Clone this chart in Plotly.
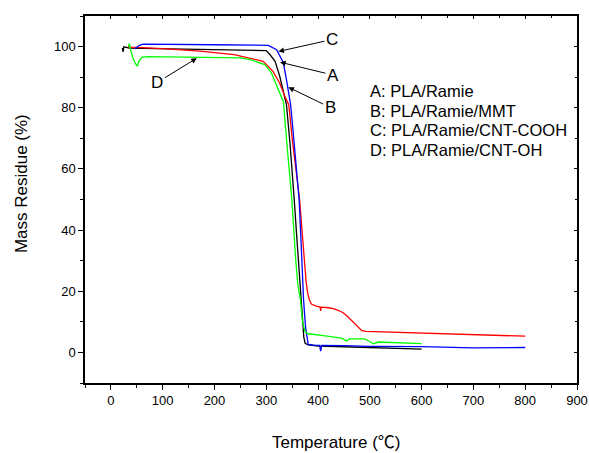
import plotly.graph_objects as go

# ---------------- data ----------------
temp_A = [22, 23.5, 25, 27, 30, 36, 60, 100, 150, 200, 250, 280, 300, 307, 317, 326, 332, 339,
          346, 350, 354, 358, 362, 366, 369, 371, 372.5, 375, 381, 400, 450, 500, 550, 600]
mass_A = [99.6, 98.3, 99.9, 99.8, 99.6, 99.5, 99.4, 99.3, 99.2, 99.1, 99.0, 98.9, 98.7, 97.4, 95.2,
          90.3, 86, 81, 68, 60, 50, 40, 30, 22, 16, 9, 5, 3.0, 2.5, 2.1, 1.9, 1.6, 1.4, 1.1]

temp_B = [33, 40, 100, 172, 238, 269, 294, 313, 326, 336, 343.5, 350, 357, 364.5, 369, 373, 377,
          380, 383, 387, 395, 403, 404, 405, 406, 420, 430, 440, 449, 458, 468, 476, 484, 492,
          550, 600, 650, 700, 750, 800]
mass_B = [100.0, 99.8, 99.3, 98.5, 97.4, 96.3, 95.2, 91.9, 88.0, 83.7, 81, 70, 60, 49.8, 40, 30, 23,
          19.5, 17.3, 15.8, 15.2, 14.9, 14.8, 13.6, 14.8, 14.6, 14.3, 13.7, 12.9, 11.6, 9.9, 8.3,
          7.2, 6.9, 6.6, 6.3, 6.1, 5.9, 5.6, 5.3]

temp_C = [46, 50, 55, 62, 100, 200, 280, 304, 320, 333, 339, 347, 352, 357, 363.5, 368, 372, 376,
          379, 381, 390, 403, 405, 407, 450, 500, 600, 700, 800]
mass_C = [99.2, 99.8, 100.4, 100.8, 100.7, 100.6, 100.5, 100.4, 99.0, 94.7, 89.2, 81, 72, 62,
          49.8, 33, 17.3, 8, 4, 2.6, 2.4, 2.3, 0.4, 2.3, 2.2, 2.0, 1.9, 1.5, 1.6]

temp_D = [34, 35.5, 38, 42, 47, 51, 55, 60, 70, 100, 150, 200, 250, 269, 297, 310, 323, 333,
          341, 349.5, 357, 361, 366, 370, 375, 381, 410, 430, 445, 452, 455, 461, 475, 490, 497,
          503, 507, 517, 550, 600]
mass_D = [100.0, 101.0, 99.0, 96.5, 94.5, 93.6, 95.5, 96.5, 96.7, 96.6, 96.5, 96.5, 96.3, 95.7,
          94.1, 91.4, 86.4, 82, 66, 49.8, 30, 22, 17.3, 10, 6.7, 6.1, 5.5, 5.0, 4.7, 4.0, 3.7,
          4.4, 4.4, 4.4, 3.8, 3.3, 2.85, 3.4, 3.2, 2.85]

series_names = ["A", "B", "C", "D"]
series_colors = ["#000000", "#ff0000", "#0000ff", "#00ff00"]

legend_lines = ["A: PLA/Ramie", "B: PLA/Ramie/MMT", "C: PLA/Ramie/CNT-COOH", "D: PLA/Ramie/CNT-OH"]

x_title = "Temperature (<span style='font-family:Noto Sans CJK SC'>℃</span>)"
y_title = "Mass Residue (%)"

# label positions (data coords): label centre and arrow head
label_text = ["C", "A", "B", "D"]
label_xy = [(426.6, 102.3), (428.6, 90.7), (423.3, 80.1), (89.7, 88.3)]
arrow_head = [(323.5, 98.4), (326.7, 94.9), (342.8, 86.7), (165.8, 96.2)]

x_ticks = list(range(0, 901, 100))
y_ticks = list(range(0, 101, 20))

FONT = "Liberation Sans, Arial, Noto Sans CJK SC, sans-serif"

fig = go.Figure()
temps = [temp_A, temp_B, temp_C, temp_D]
masses = [mass_A, mass_B, mass_C, mass_D]
for name, col, t, m in zip(series_names, series_colors, temps, masses):
    fig.add_trace(go.Scatter(x=t, y=m, mode="lines", name=name,
                             line=dict(color=col, width=1.3), showlegend=False))

# invisible trace to hold the mirrored (top/right) axes
fig.add_trace(go.Scatter(x=[None], y=[None], xaxis="x2", yaxis="y2",
                         showlegend=False, hoverinfo="skip"))

axis_common = dict(showgrid=False, zeroline=False, showline=True, linecolor="black",
                   linewidth=1.5, tickcolor="black", tickwidth=1.2, automargin=False)

fig.update_layout(
    width=589, height=453,
    margin=dict(l=85, r=12, t=16, b=70, autoexpand=False),
    paper_bgcolor="white", plot_bgcolor="white",
    font=dict(family=FONT, color="black"),
    xaxis=dict(range=[-50, 900], tickvals=x_ticks, ticks="outside", ticklen=5,
               minor=dict(dtick=50, tick0=0, ticks="outside", ticklen=3, tickcolor="black", tickwidth=1.2),
               tickfont=dict(size=13, family=FONT), **axis_common),
    yaxis=dict(range=[-10, 110], tickvals=y_ticks, ticks="outside", ticklen=5,
               minor=dict(dtick=10, tick0=0, ticks="outside", ticklen=3, tickcolor="black", tickwidth=1.2),
               tickfont=dict(size=13, family=FONT), **axis_common),
    xaxis2=dict(range=[-50, 900], overlaying="x", side="top", anchor="y", tickvals=x_ticks,
                ticks="inside", ticklen=3, showticklabels=False,
                minor=dict(dtick=50, tick0=0, ticks="inside", ticklen=2, tickcolor="black"),
                **axis_common),
    yaxis2=dict(range=[-10, 110], overlaying="y", side="right", anchor="x", tickvals=y_ticks,
                ticks="inside", ticklen=3, showticklabels=False,
                minor=dict(dtick=10, tick0=0, ticks="inside", ticklen=2, tickcolor="black"),
                **axis_common),
)

# axis titles (placed as in the reference)
fig.add_annotation(text=x_title, xref="paper", yref="paper", x=0.5115, y=-0.156,
                   xanchor="center", yanchor="middle", showarrow=False,
                   font=dict(size=17, family=FONT, color="black"))
fig.add_annotation(text=y_title, xref="paper", yref="paper", x=-0.1287, y=0.5438,
                   xanchor="center", yanchor="middle", showarrow=False, textangle=-90,
                   font=dict(size=17, family=FONT, color="black"))

for txt, (lx, ly), (hx, hy) in zip(label_text, label_xy, arrow_head):
    fig.add_annotation(x=hx, y=hy, ax=lx, ay=ly, axref="x", ayref="y", xref="x", yref="y",
                       text=txt, showarrow=True, arrowhead=2, arrowsize=1.1, arrowwidth=1,
                       arrowcolor="black", font=dict(size=17, family=FONT, color="black"))

legend_x = 496.8
legend_y0 = 85.6
legend_dy = 6.5
for i, line in enumerate(legend_lines):
    fig.add_annotation(x=legend_x, y=legend_y0 - i * legend_dy, xref="x", yref="y",
                       text=line, showarrow=False, xanchor="left", yanchor="middle",
                       font=dict(size=16.5, family=FONT, color="black"))

fig.write_html("out.html")
